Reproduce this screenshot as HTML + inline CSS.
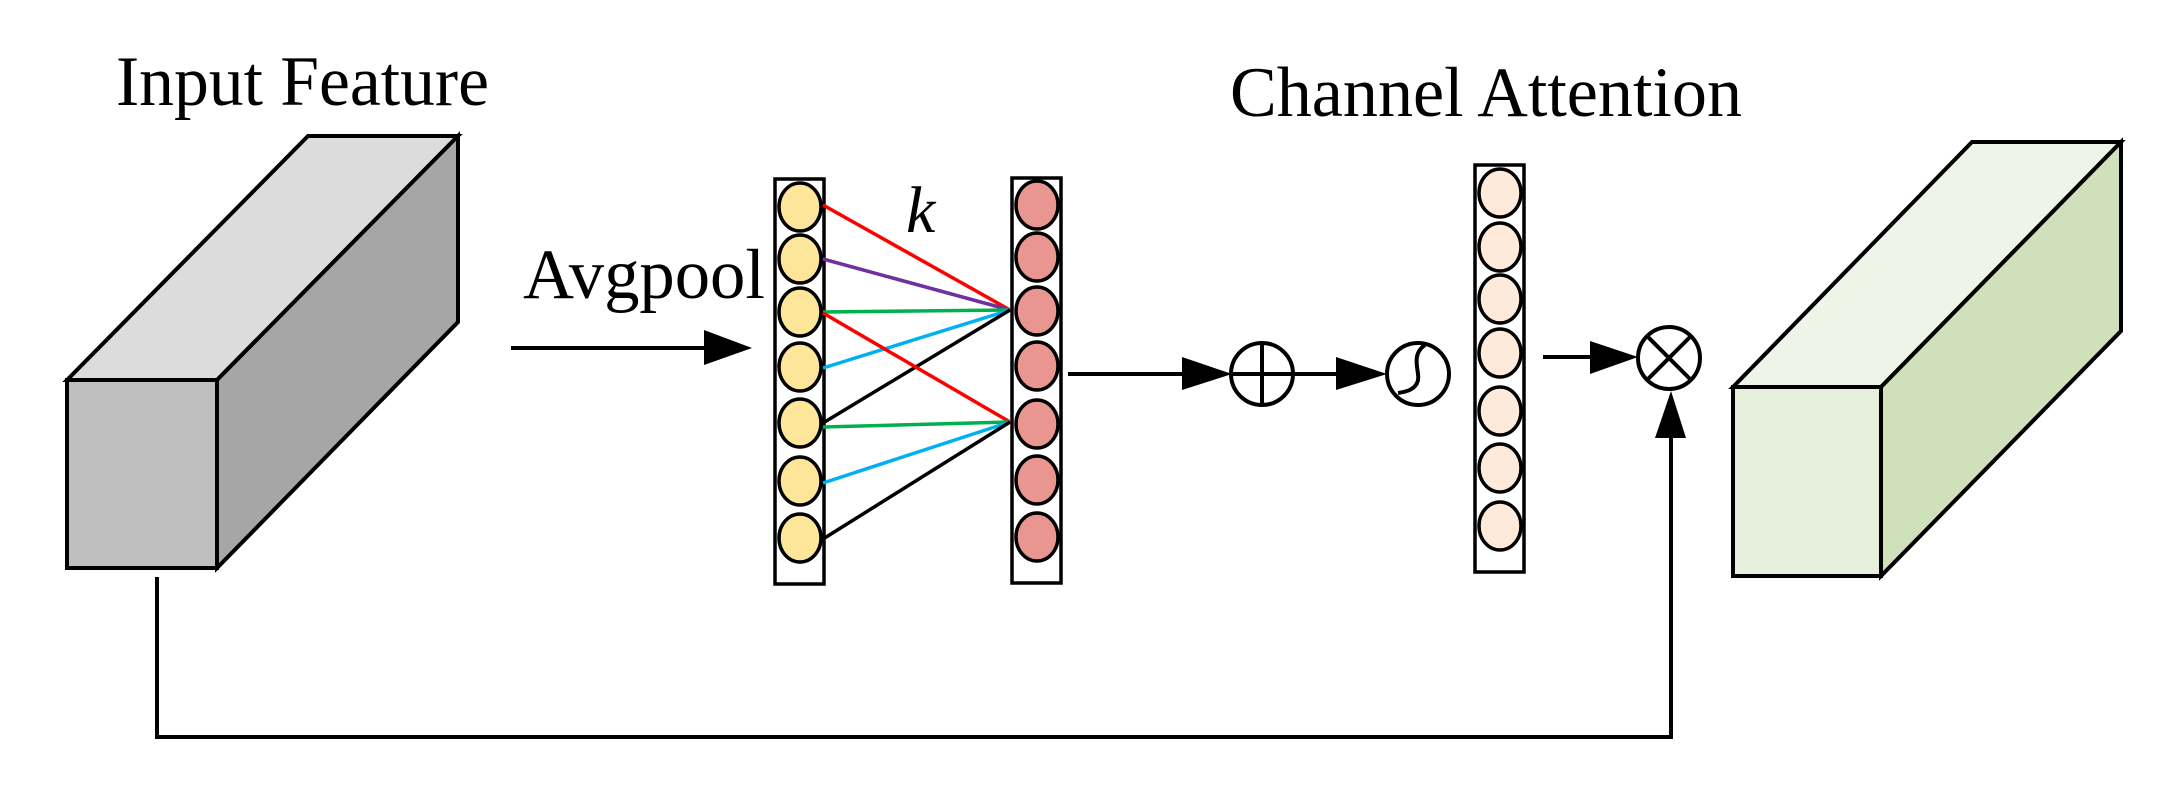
<!DOCTYPE html>
<html><head><meta charset="utf-8"><style>html,body{margin:0;padding:0;background:#fff}svg{display:block}</style></head>
<body>
<svg width="2171" height="797" viewBox="0 0 2171 797" xmlns="http://www.w3.org/2000/svg">
<g font-family="'Liberation Serif', serif" fill="#000">
<text x="116" y="105" font-size="71" textLength="373" lengthAdjust="spacingAndGlyphs">Input Feature</text>
<text x="523" y="298" font-size="71" textLength="242" lengthAdjust="spacingAndGlyphs">Avgpool</text>
<text x="1230" y="116" font-size="71" textLength="512" lengthAdjust="spacingAndGlyphs">Channel Attention</text>
<text x="906" y="232" font-size="66" font-style="italic">k</text>
</g>
<g stroke="#000" stroke-width="4" stroke-linejoin="miter">
<!-- left box -->
<polygon points="67,380 308,136 458,136 217,380" fill="#dcdcdc"/>
<polygon points="217,380 458,136 458,322 217,568" fill="#a6a6a6"/>
<rect x="67" y="380" width="150" height="188" fill="#bfbfbf"/>
<!-- right box -->
<polygon points="1733,387 1972,142 2121,142 1881,387" fill="#eef4e8"/>
<polygon points="1881,387 2121,142 2121,331 1881,576" fill="#cfe0bb"/>
<rect x="1733" y="387" width="148" height="189" fill="#e6efdb"/>
</g>
<!-- columns -->
<g stroke="#000" stroke-width="3.5">
<rect x="775" y="179" width="49" height="405" fill="#fff"/>
<rect x="1012" y="178" width="49" height="405" fill="#fff"/>
<rect x="1475" y="165" width="49" height="407" fill="#fff"/>
</g>
<g stroke="#000" stroke-width="3.5" fill="#fde699">
<ellipse cx="800" cy="207" rx="21" ry="24"/><ellipse cx="800" cy="259" rx="21" ry="24"/>
<ellipse cx="800" cy="312" rx="21" ry="24"/><ellipse cx="800" cy="367" rx="21" ry="24"/>
<ellipse cx="800" cy="423" rx="21" ry="24"/><ellipse cx="800" cy="481" rx="21" ry="24"/>
<ellipse cx="800" cy="538" rx="21" ry="24"/>
</g>
<g stroke="#000" stroke-width="3.5" fill="#ea9690">
<ellipse cx="1037" cy="205" rx="21" ry="24"/><ellipse cx="1037" cy="257" rx="21" ry="24"/>
<ellipse cx="1037" cy="311" rx="21" ry="24"/><ellipse cx="1037" cy="366" rx="21" ry="24"/>
<ellipse cx="1037" cy="424" rx="21" ry="24"/><ellipse cx="1037" cy="480" rx="21" ry="24"/>
<ellipse cx="1037" cy="537" rx="21" ry="24"/>
</g>
<g stroke="#000" stroke-width="3.5" fill="#fdeadb">
<ellipse cx="1500" cy="193" rx="21" ry="24"/><ellipse cx="1500" cy="247" rx="21" ry="24"/>
<ellipse cx="1500" cy="299" rx="21" ry="24"/><ellipse cx="1500" cy="353" rx="21" ry="24"/>
<ellipse cx="1500" cy="411" rx="21" ry="24"/><ellipse cx="1500" cy="468" rx="21" ry="24"/>
<ellipse cx="1500" cy="526" rx="21" ry="24"/>
</g>
<!-- connections -->
<g stroke-width="3.5">
<line x1="823" y1="205" x2="1010" y2="310" stroke="#ff0000"/>
<line x1="823" y1="259" x2="1010" y2="310" stroke="#7030a0"/>
<line x1="823" y1="312" x2="1010" y2="310" stroke="#00b050"/>
<line x1="823" y1="368" x2="1010" y2="310" stroke="#00b0f0"/>
<line x1="823" y1="423" x2="1010" y2="310" stroke="#000"/>
<line x1="823" y1="313" x2="1010" y2="422" stroke="#ff0000"/>
<line x1="823" y1="427" x2="1010" y2="422" stroke="#00b050"/>
<line x1="823" y1="483" x2="1010" y2="422" stroke="#00b0f0"/>
<line x1="823" y1="539" x2="1010" y2="422" stroke="#000"/>
</g>
<!-- arrows -->
<g stroke="#000" stroke-width="4" fill="none">
<line x1="511" y1="348" x2="710" y2="348"/>
<line x1="1068" y1="374" x2="1190" y2="374"/>
<line x1="1231" y1="374" x2="1340" y2="374"/>
<line x1="1543" y1="357" x2="1595" y2="357"/>
<polyline points="157,577 157,737 1671,737 1671,435"/>
<circle cx="1262" cy="374" r="31"/>
<line x1="1262" y1="343" x2="1262" y2="405"/>
<circle cx="1418" cy="374" r="31"/>
<path d="M1425,345 C1410,355 1420,372 1418,380 C1416,390 1405,392 1398,393"/>
<circle cx="1669" cy="358" r="31"/>
<line x1="1647" y1="336" x2="1691" y2="380"/>
<line x1="1691" y1="336" x2="1647" y2="380"/>
</g>
<g fill="#000">
<polygon points="704,330 752,348 704,365"/>
<polygon points="1182,357 1232,374 1182,390"/>
<polygon points="1336,357 1387,374 1336,390"/>
<polygon points="1590,341 1638,357 1590,374"/>
<polygon points="1655,438 1671,391 1686,438"/>
</g>
</svg>
</body></html>
